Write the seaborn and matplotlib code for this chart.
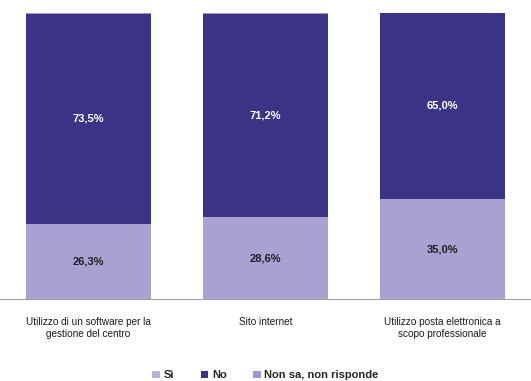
import matplotlib
matplotlib.use("Agg")
import matplotlib.pyplot as plt
from matplotlib.patches import Patch
import seaborn as sns
import pandas as pd

categories = [
    "Utilizzo di un software per la\ngestione del centro",
    "Sito internet",
    "Utilizzo posta elettronica a\nscopo professionale",
]
si = [26.3, 28.6, 35.0]
no = [73.5, 71.2, 65.0]
non_sa = [0.2, 0.2, 0.0]
series_names = ["Sì", "No", "Non sa, non risponde"]

colors = {"Sì": "#a8a2d3", "No": "#3b3386", "Non sa, non risponde": "#9b96da"}
legend_colors = {"Sì": "#b6b2d6", "No": "#3b3386", "Non sa, non risponde": "#9b96da"}

sns.set_theme(style="white")
plt.rcParams["font.family"] = ["Liberation Sans", "DejaVu Sans"]

df = pd.DataFrame({"categoria": categories, "Sì": si, "No": no,
                   "Non sa, non risponde": non_sa})

fig = plt.figure(figsize=(5.31, 3.81), dpi=100)
ax = fig.add_axes([0.0, 0.215, 1.0, 0.751])

bottom = [0.0] * len(categories)
for name in series_names:
    sns.barplot(data=df, x="categoria", y=name, order=categories, ax=ax,
                color=colors[name], width=0.71, bottom=bottom,
                saturation=1, linewidth=0, errorbar=None)
    vals = df[name].tolist()
    if name != "Non sa, non risponde":
        txt_color = "white" if name == "No" else "#1e1e1e"
        for i, v in enumerate(vals):
            ax.text(i, bottom[i] + v / 2, f"{v:.1f}%".replace(".", ","),
                    ha="center", va="center", fontsize=8, fontweight="bold",
                    color=txt_color)
    bottom = [b + v for b, v in zip(bottom, vals)]

ax.set_xlim(-0.5, 2.5)
ax.set_ylim(0, 100)
ax.set_xlabel("")
ax.set_ylabel("")
ax.set_yticks([])
for s in ["top", "right", "left"]:
    ax.spines[s].set_visible(False)
ax.spines["bottom"].set_color("#a0a0a0")
ax.spines["bottom"].set_linewidth(0.8)
ax.set_xticks([0.5, 1.5], minor=True)
ax.tick_params(axis="x", which="minor", length=3, color="#a0a0a0", direction="out")
ax.tick_params(axis="x", which="major", length=0, pad=13, labelsize=7.2,
               labelcolor="#1a1a1a")

handles = [Patch(facecolor=legend_colors[n], edgecolor="none") for n in series_names]
fig.legend(handles, series_names, loc="center", bbox_to_anchor=(0.5, 0.015),
           ncol=3, frameon=False, fontsize=8, handlelength=0.7,
           handleheight=0.7, handletextpad=0.3, columnspacing=2.4,
           prop={"weight": "bold", "size": 8})

fig.savefig("out.png", dpi=100)
